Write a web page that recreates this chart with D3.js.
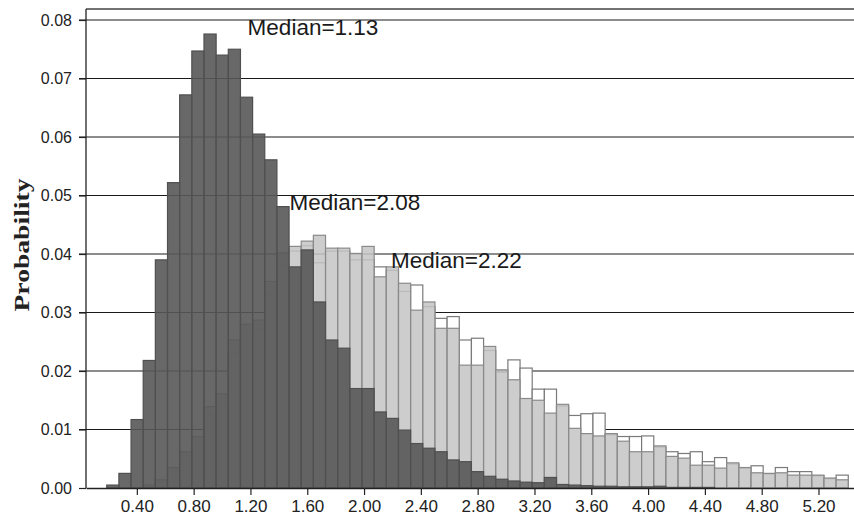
<!DOCTYPE html>
<html>
<head>
<meta charset="utf-8">
<script src="https://cdn.jsdelivr.net/npm/d3@7"></script>
<style>
  body { margin: 0; background: #fff; }
  svg { display: block; }
</style>
</head>
<body>
<div id="chart"></div>
<script>
// histogram bins: 61 bins, left edge and width in x units
const binStart = 0.188
const binWidth = 0.0856
const binCount = 61

// series 1 (dark, median 1.13)
const darkVals = [0.0005,0.0025,0.0117,0.0218,0.039,0.0522,0.0672,0.0747,0.0776,0.074,
  0.075,0.0668,0.0605,0.0561,0.0481,0.0378,0.0407,0.0318,0.0253,0.0239,
  0.017,0.017,0.013,0.0119,0.0099,0.0076,0.0068,0.0062,0.0048,0.0045,
  0.0028,0.002,0.0015,0.0012,0.001,0.0009,0.0018,0.0006,0.0005,0.0004,
  0.0003,0.0003,0.0002,0.0002,0.0002,0.0003,0.0001,0.0001,0.0001,0.0001,
  0,0,0,0,0,0,0,0,0,0,0]
// series 2 (light grey, median 2.08)
const lightVals = [0,0,0,0.0005,0.0014,0.0035,0.0062,0.0088,0.0139,0.0161,
  0.0253,0.028,0.0287,0.0353,0.0402,0.0413,0.0422,0.0432,0.041,0.041,
  0.0401,0.0413,0.0361,0.0378,0.035,0.0304,0.0318,0.0273,0.0273,0.021,
  0.021,0.0242,0.0202,0.0185,0.0153,0.015,0.0128,0.0143,0.0102,0.0093,
  0.0089,0.0093,0.008,0.0062,0.0062,0.0072,0.0054,0.0051,0.0039,0.0039,
  0.0034,0.0043,0.0035,0.0026,0.0025,0.0026,0.0022,0.0022,0.0022,0.0017,0.0014]
// series 3 (white, median 2.22)
const whiteVals = [0,0,0,0.0003,0.001,0.003,0.0055,0.008,0.0125,0.015,
  0.023,0.026,0.027,0.033,0.038,0.0405,0.0414,0.0385,0.0405,0.0405,
  0.039,0.039,0.0378,0.0372,0.0336,0.0347,0.031,0.029,0.0293,0.0253,
  0.0256,0.0235,0.0198,0.0219,0.0205,0.0169,0.0169,0.014,0.0124,0.0127,
  0.0128,0.0091,0.0088,0.0088,0.0089,0.007,0.0062,0.0059,0.0062,0.0045,
  0.0052,0.0041,0.0034,0.0038,0.0024,0.0035,0.0028,0.0028,0.0021,0.0016,0.0022]

const xTicks = [0.4,0.8,1.2,1.6,2.0,2.4,2.8,3.2,3.6,4.0,4.4,4.8,5.2]
const yTicks = [0,0.01,0.02,0.03,0.04,0.05,0.06,0.07,0.08]
const medians = [
  { label: "Median=1.13", x: 1.18, y: 0.0775 },
  { label: "Median=2.08", x: 1.475, y: 0.0475 },
  { label: "Median=2.22", x: 2.19, y: 0.0376 }
]

const W = 854, H = 517
const pLeft = 86, pRight = 854, pTop = 9, pBottom = 488

let svg = d3.select("#chart").append("svg")
  .attr("width", W)
  .attr("height", H)

let x = d3.scaleLinear().domain([0.042, 5.45]).range([pLeft, pRight])
let y = d3.scaleLinear().domain([0, 0.08]).range([pBottom, 20])

//gridlines first, bars cover them
svg.append("g").selectAll("line").data(yTicks.filter(d => d > 0)).enter().append("line")
  .attr("x1", pLeft - 7).attr("x2", pRight)
  .attr("y1", d => y(d)).attr("y2", d => y(d))
  .attr("stroke", "#1a1a1a").attr("stroke-width", 1.2)

const bins = d3.range(binCount).map(i => binStart + i * binWidth)

function drawSeries(vals, fill, opacity, stroke) {
  svg.append("g").selectAll("rect").data(vals).enter().append("rect")
    .attr("x", (d, i) => x(bins[i]))
    .attr("width", (d, i) => x(bins[i] + binWidth) - x(bins[i]))
    .attr("y", d => y(d))
    .attr("height", d => pBottom - y(d))
    .attr("fill", fill)
    .attr("fill-opacity", opacity)
    .attr("stroke", stroke)
    .attr("stroke-width", 1.2)
    .style("display", d => d > 0 ? null : "none")
}
drawSeries(whiteVals, "#ffffff", 1, "#7a7a7a")
drawSeries(lightVals, "#c4c4c4", 0.85, "#8a8a8a")
drawSeries(darkVals, "#585858", 0.9, "#505050")

// frame
svg.append("line").attr("x1", pLeft).attr("x2", pRight).attr("y1", pTop).attr("y2", pTop)
  .attr("stroke", "#444").attr("stroke-width", 1.5)
svg.append("line").attr("x1", pLeft).attr("x2", pLeft).attr("y1", pTop).attr("y2", pBottom)
  .attr("stroke", "#222").attr("stroke-width", 1.3)

// axes
let yAxis = d3.axisLeft(y).tickValues(yTicks).tickFormat(d3.format(".2f")).tickSize(7).tickSizeOuter(0)
let gy = svg.append("g").attr("transform", `translate(${pLeft},0)`).call(yAxis)
gy.select(".domain").remove()
gy.selectAll(".tick line").attr("stroke", "#222").attr("stroke-width", 1.2)
gy.selectAll("text").attr("font-family", "Liberation Sans, Arial, sans-serif")
  .attr("font-size", 16).attr("fill", "#222").attr("x", -14)

let xAxis = d3.axisBottom(x).tickValues(xTicks).tickFormat(d3.format(".2f")).tickSize(7).tickSizeOuter(0)
let gx = svg.append("g").attr("transform", `translate(0,${pBottom})`).call(xAxis)
gx.select(".domain").attr("stroke", "#222").attr("stroke-width", 1.5)
gx.selectAll(".tick line").attr("stroke", "#222").attr("stroke-width", 1.2)
gx.selectAll("text").attr("font-family", "Liberation Sans, Arial, sans-serif")
  .attr("font-size", 17).attr("fill", "#222").attr("y", 12)

// y title
svg.append("text")
  .attr("transform", "translate(29,245) rotate(-90)")
  .attr("text-anchor", "middle")
  .attr("font-family", "Liberation Serif, Times New Roman, serif")
  .attr("font-weight", "bold")
  .attr("font-size", 21)
  .attr("fill", "#222")
  .attr("textLength", 133)
  .attr("lengthAdjust", "spacingAndGlyphs")
  .text("Probability")

// median labels
svg.append("g").selectAll("text").data(medians).enter().append("text")
  .attr("x", d => x(d.x))
  .attr("y", d => y(d.y))
  .attr("font-family", "Liberation Sans, Arial, sans-serif")
  .attr("font-size", 22.5)
  .attr("fill", "#1a1a1a")
  .text(d => d.label)
</script>
</body>
</html>
